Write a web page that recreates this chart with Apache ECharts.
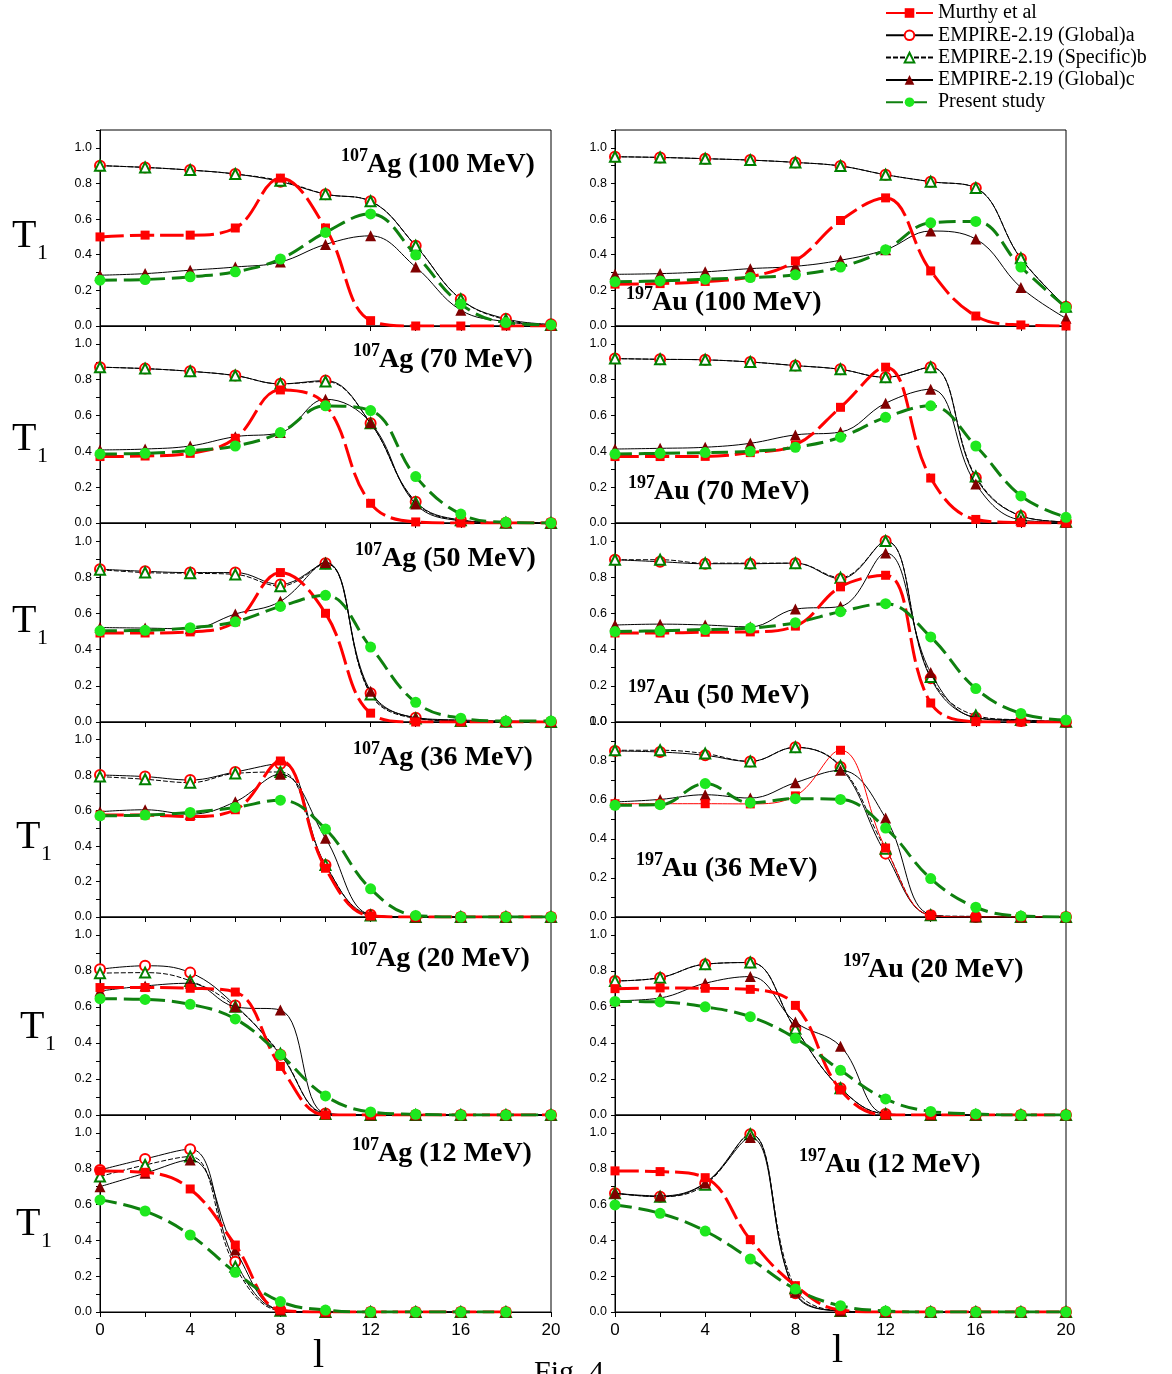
<!DOCTYPE html>
<html><head><meta charset="utf-8">
<script src="https://cdn.jsdelivr.net/npm/echarts@6/dist/echarts.min.js"></script>
<style>html,body{margin:0;padding:0;background:#fff}#c{width:1172px;height:1374px}</style>
</head><body><div id="c"></div>
<script>
// ---------------- DATA ----------------
const lValues = [0, 2, 4, 6, 8, 10, 12, 14, 16, 18, 20];
const seriesNames = ['Murthy et al', 'EMPIRE-2.19 (Global)a', 'EMPIRE-2.19 (Specific)b', 'EMPIRE-2.19 (Global)c', 'Present study'];
const panelSup = ['107', '197', '107', '197', '107', '197', '107', '197', '107', '197', '107', '197'];
const panelText = ['Ag (100 MeV)', 'Au (100 MeV)', 'Ag (70 MeV)', 'Au (70 MeV)', 'Ag (50 MeV)', 'Au (50 MeV)',
                   'Ag (36 MeV)', 'Au (36 MeV)', 'Ag (20 MeV)', 'Au (20 MeV)', 'Ag (12 MeV)', 'Au (12 MeV)'];
const yTickLabels = ['0.0', '0.2', '0.4', '0.6', '0.8', '1.0'];
const xTickLabels = ['0', '4', '8', '12', '16', '20'];

// 107Ag 100 MeV
const ag100Murthy  = [0.50, 0.51, 0.51, 0.55, 0.83, 0.55, 0.03, 0.0, 0.0, 0.0, 0.0];
const ag100GlobalA = [0.90, 0.89, 0.875, 0.853, 0.81, 0.74, 0.70, 0.45, 0.15, 0.04, 0.01];
const ag100SpecB   = [0.90, 0.89, 0.875, 0.853, 0.815, 0.74, 0.70, 0.45, 0.15, 0.035, 0.006];
const ag100GlobalC = [0.285, 0.294, 0.313, 0.331, 0.359, 0.458, 0.506, 0.331, 0.089, 0.024, 0.004];
const ag100Present = [0.257, 0.261, 0.276, 0.304, 0.376, 0.525, 0.629, 0.399, 0.123, 0.019, 0.006];
// 197Au 100 MeV
const au100Murthy  = [0.235, 0.238, 0.25, 0.276, 0.365, 0.592, 0.719, 0.309, 0.056, 0.006, 0.0];
const au100GlobalA = [0.95, 0.946, 0.939, 0.931, 0.918, 0.898, 0.849, 0.81, 0.775, 0.378, 0.108];
const au100SpecB   = [0.95, 0.946, 0.939, 0.931, 0.918, 0.898, 0.849, 0.81, 0.775, 0.38, 0.108];
const au100GlobalC = [0.29, 0.294, 0.304, 0.322, 0.335, 0.369, 0.428, 0.533, 0.488, 0.216, 0.043];
const au100Present = [0.248, 0.253, 0.263, 0.272, 0.287, 0.331, 0.428, 0.579, 0.587, 0.331, 0.104];
// 107Ag 70 MeV
const ag70Murthy  = [0.371, 0.374, 0.389, 0.473, 0.743, 0.66, 0.11, 0.006, 0, 0, 0];
const ag70GlobalA = [0.87, 0.862, 0.847, 0.823, 0.777, 0.795, 0.557, 0.119, 0.017, 0.002, 0];
const ag70SpecB   = [0.87, 0.862, 0.847, 0.823, 0.777, 0.79, 0.557, 0.115, 0.015, 0.002, 0];
const ag70GlobalC = [0.408, 0.413, 0.43, 0.482, 0.505, 0.691, 0.56, 0.106, 0.013, 0.002, 0];
const ag70Present = [0.385, 0.389, 0.404, 0.43, 0.505, 0.654, 0.628, 0.259, 0.05, 0.004, 0];
// 197Au 70 MeV
const au70Murthy  = [0.371, 0.371, 0.372, 0.393, 0.436, 0.646, 0.87, 0.251, 0.02, 0.002, 0];
const au70GlobalA = [0.918, 0.914, 0.911, 0.899, 0.879, 0.858, 0.814, 0.87, 0.253, 0.039, 0.007];
const au70SpecB   = [0.918, 0.914, 0.911, 0.899, 0.879, 0.858, 0.814, 0.87, 0.26, 0.04, 0.007];
const au70GlobalC = [0.413, 0.417, 0.423, 0.445, 0.492, 0.508, 0.669, 0.747, 0.218, 0.017, 0.004];
const au70Present = [0.385, 0.389, 0.393, 0.40, 0.423, 0.479, 0.59, 0.654, 0.43, 0.151, 0.032];
// 107Ag 50 MeV
const ag50Murthy  = [0.492, 0.492, 0.498, 0.554, 0.826, 0.601, 0.049, 0, 0, 0, 0];
const ag50GlobalA = [0.845, 0.833, 0.826, 0.826, 0.76, 0.878, 0.159, 0.024, 0.006, 0.002, 0];
const ag50SpecB   = [0.842, 0.826, 0.822, 0.816, 0.751, 0.875, 0.152, 0.02, 0.005, 0.002, 0];
const ag50GlobalC = [0.522, 0.519, 0.515, 0.597, 0.667, 0.882, 0.17, 0.024, 0.011, 0.006, 0.002];
const ag50Present = [0.504, 0.507, 0.521, 0.554, 0.639, 0.70, 0.414, 0.109, 0.021, 0.006, 0.006];
// 197Au 50 MeV
const au50Murthy  = [0.492, 0.492, 0.496, 0.498, 0.53, 0.747, 0.811, 0.105, 0.002, 0, 0];
const au50GlobalA = [0.897, 0.886, 0.875, 0.875, 0.878, 0.792, 1.0, 0.242, 0.024, 0.006, 0];
const au50SpecB   = [0.897, 0.897, 0.878, 0.878, 0.878, 0.798, 1.0, 0.249, 0.036, 0.011, 0.002];
const au50GlobalC = [0.536, 0.541, 0.536, 0.526, 0.624, 0.639, 0.934, 0.273, 0.024, 0.011, 0.002];
const au50Present = [0.50, 0.504, 0.511, 0.519, 0.549, 0.61, 0.654, 0.47, 0.185, 0.047, 0.011];
// 107Ag 36 MeV
const ag36Murthy  = [0.575, 0.575, 0.567, 0.605, 0.88, 0.275, 0.006, 0, 0, 0, 0];
const ag36GlobalA = [0.801, 0.792, 0.773, 0.818, 0.865, 0.294, 0.013, 0, 0, 0, 0];
const ag36SpecB   = [0.792, 0.777, 0.758, 0.81, 0.818, 0.294, 0.009, 0, 0, 0, 0];
const ag36GlobalC = [0.594, 0.605, 0.58, 0.65, 0.805, 0.444, 0.013, 0, 0, 0, 0];
const ag36Present = [0.571, 0.575, 0.59, 0.618, 0.659, 0.496, 0.159, 0.009, 0, 0, 0];
// 197Au 36 MeV
const au36Murthy  = [0.581, 0.581, 0.581, 0.58, 0.621, 0.855, 0.354, 0.009, 0, 0, 0];
const au36GlobalA = [0.851, 0.846, 0.829, 0.798, 0.87, 0.769, 0.325, 0.009, 0, 0, 0];
const au36SpecB   = [0.855, 0.855, 0.838, 0.798, 0.87, 0.774, 0.35, 0.009, 0.003, 0, 0];
const au36GlobalC = [0.59, 0.603, 0.627, 0.61, 0.689, 0.752, 0.508, 0.012, 0, 0, 0];
const au36Present = [0.573, 0.576, 0.684, 0.586, 0.607, 0.603, 0.456, 0.197, 0.05, 0.005, 0];
// 107Ag 20 MeV
const ag20Murthy  = [0.708, 0.708, 0.704, 0.683, 0.27, 0, 0, 0, 0, 0, 0];
const ag20GlobalA = [0.81, 0.829, 0.791, 0.609, 0.335, 0.009, 0, 0, 0, 0, 0];
const ag20SpecB   = [0.788, 0.791, 0.745, 0.601, 0.341, 0.006, 0, 0, 0, 0, 0];
const ag20GlobalC = [0.689, 0.717, 0.732, 0.601, 0.583, 0.009, 0, 0, 0, 0, 0];
const ag20Present = [0.646, 0.642, 0.615, 0.534, 0.335, 0.106, 0.017, 0.004, 0, 0, 0];
// 197Au 20 MeV
const au20Murthy  = [0.702, 0.706, 0.704, 0.698, 0.609, 0.14, 0, 0, 0, 0, 0];
const au20GlobalA = [0.745, 0.763, 0.838, 0.847, 0.479, 0.149, 0.006, 0, 0, 0, 0];
const au20SpecB   = [0.745, 0.763, 0.838, 0.847, 0.479, 0.149, 0.006, 0, 0, 0, 0];
const au20GlobalC = [0.635, 0.65, 0.732, 0.769, 0.516, 0.382, 0.006, 0, 0, 0, 0];
const au20Present = [0.631, 0.628, 0.601, 0.546, 0.426, 0.248, 0.089, 0.02, 0.006, 0, 0];
// 107Ag 12 MeV
const ag12Murthy  = [0.788, 0.78, 0.687, 0.374, 0.011, 0, 0, 0, 0, 0, null];
const ag12GlobalA = [0.793, 0.855, 0.909, 0.281, 0.011, 0, 0, 0, 0, 0, null];
const ag12SpecB   = [0.756, 0.821, 0.868, 0.253, 0.007, 0, 0, 0, 0, 0, null];
const ag12GlobalC = [0.70, 0.775, 0.849, 0.346, 0.011, 0, 0, 0, 0, 0, null];
const ag12Present = [0.626, 0.564, 0.43, 0.222, 0.058, 0.011, 0, 0, 0, 0, null];
// 197Au 12 MeV
const au12Murthy  = [0.788, 0.784, 0.75, 0.404, 0.147, 0.011, 0, 0, 0, 0, 0];
const au12GlobalA = [0.663, 0.644, 0.719, 0.993, 0.104, 0.006, 0, 0, 0, 0, 0];
const au12SpecB   = [0.663, 0.644, 0.71, 0.993, 0.132, 0.006, 0, 0, 0, 0, 0];
const au12GlobalC = [0.663, 0.648, 0.72, 0.974, 0.11, 0.006, 0, 0, 0, 0, 0];
const au12Present = [0.598, 0.551, 0.452, 0.296, 0.128, 0.035, 0.006, 0, 0, 0, 0];

const panelSeries = [
  [ag100Murthy, ag100GlobalA, ag100SpecB, ag100GlobalC, ag100Present],
  [au100Murthy, au100GlobalA, au100SpecB, au100GlobalC, au100Present],
  [ag70Murthy, ag70GlobalA, ag70SpecB, ag70GlobalC, ag70Present],
  [au70Murthy, au70GlobalA, au70SpecB, au70GlobalC, au70Present],
  [ag50Murthy, ag50GlobalA, ag50SpecB, ag50GlobalC, ag50Present],
  [au50Murthy, au50GlobalA, au50SpecB, au50GlobalC, au50Present],
  [ag36Murthy, ag36GlobalA, ag36SpecB, ag36GlobalC, ag36Present],
  [au36Murthy, au36GlobalA, au36SpecB, au36GlobalC, au36Present],
  [ag20Murthy, ag20GlobalA, ag20SpecB, ag20GlobalC, ag20Present],
  [au20Murthy, au20GlobalA, au20SpecB, au20GlobalC, au20Present],
  [ag12Murthy, ag12GlobalA, ag12SpecB, ag12GlobalC, ag12Present],
  [au12Murthy, au12GlobalA, au12SpecB, au12GlobalC, au12Present]
];

// ---------------- LAYOUT / STYLE ----------------
const SERIF = '"Liberation Serif","Times New Roman",serif';
const SANS = '"Liberation Sans",Arial,sans-serif';
const rowTops = [130, 326, 523, 722, 917, 1115];
const rowHeights = [196, 197, 199, 195, 198, 197];
const colLefts = [100, 615];
const panelWidth = 451;
const panelYMax = [1.1, 1.1, 1.1, 1.1, 1.1, 1.1, 1.1, 1.0, 1.1, 1.1, 1.1, 1.1];
// label positions: [supX, mainX, mainBaseline]
const labelPos = [
  [341, 367, 174], [626, 652, 312], [353, 379, 369], [628, 654, 501],
  [355, 382, 568], [628, 654, 705], [353, 379, 767], [636, 662, 878],
  [350, 376, 968], [843, 868, 979], [352, 378, 1163], [799, 825, 1174]
];
const tPos = [[12, 250], [12, 453], [12, 635], [16, 851], [20, 1041], [16, 1238]];

const styles = [
  { symbol: 'rect', size: 9, color: '#ff0000', line: { color: '#ff0000', width: 3, type: [24, 6] }, bw: 0, z: 4 },
  { symbol: 'emptyCircle', size: 10, color: '#ff0000', line: { color: '#000', width: 1, type: 'solid' }, bw: 1.3, z: 2 },
  { symbol: 'emptyTriangle', size: 10, color: '#008000', line: { color: '#000', width: 1, type: [5, 2] }, bw: 1.3, z: 2 },
  { symbol: 'triangle', size: 11, color: '#800000', line: { color: '#000', width: 1, type: 'solid' }, bw: 0, z: 3 },
  { symbol: 'circle', size: 11, color: '#1ee81e', line: { color: '#0f800f', width: 3, type: [17, 7] }, bw: 0, z: 5 }
];
const drawOrder = [1, 2, 3, 0, 4];

const grids = [], xAxes = [], yAxes = [], series = [], graphics = [];
for (let i = 0; i < 12; i++) {
  const row = Math.floor(i / 2), col = i % 2;
  const isBottom = row === 5;
  grids.push({ left: colLefts[col], top: rowTops[row], width: panelWidth, height: rowHeights[row],
    show: true, borderColor: '#000', borderWidth: 1, backgroundColor: 'transparent' });
  xAxes.push({ gridIndex: i, type: 'value', min: 0, max: 20, interval: 2,
    axisLine: { show: true, lineStyle: { color: '#000', width: 1 } },
    axisTick: { show: true, inside: false, length: 5, lineStyle: { color: '#000', width: 1 } },
    splitLine: { show: false },
    axisLabel: { show: isBottom, margin: 10, color: '#000', fontSize: 17, fontFamily: SANS,
      formatter: v => xTickLabels.indexOf(String(v)) >= 0 ? String(v) : '' } });
  yAxes.push({ gridIndex: i, type: 'value', min: 0, max: panelYMax[i], interval: 0.1,
    axisLine: { show: true, lineStyle: { color: '#000', width: 1 } },
    axisTick: { show: true, inside: false, length: 4, lineStyle: { color: '#000', width: 1 } },
    splitLine: { show: false },
    axisLabel: { margin: 8, color: '#000', fontSize: 12.5, fontFamily: SANS,
      formatter: v => { const s = v.toFixed(1); return yTickLabels.indexOf(s) >= 0 ? s : ''; } } });
  drawOrder.forEach(k => {
    const st = styles[k];
    series.push({
      name: seriesNames[k], type: 'line', xAxisIndex: i, yAxisIndex: i,
      data: lValues.map((l, j) => [l, panelSeries[i][k][j]]),
      smooth: 0.4, symbol: st.symbol, symbolSize: st.size, showAllSymbol: true, z: st.z,
      lineStyle: (i === 7 && k === 0) ? { color: '#ff0000', width: 1, type: 'solid' } : st.line,
      itemStyle: { color: st.color, borderColor: st.color, borderWidth: st.bw },
      emphasis: { disabled: true }, animation: false
    });
  });
  const lp = labelPos[i];
  graphics.push({ type: 'text', style: { text: panelSup[i], x: lp[0], y: lp[2] - 11.5 - 6,
    font: 'bold 18px ' + SERIF, fill: '#000', verticalAlign: 'middle', align: 'left' } });
  graphics.push({ type: 'text', style: { text: panelText[i], x: lp[1], y: lp[2] - 9.5,
    font: 'bold 28px ' + SERIF, fill: '#000', verticalAlign: 'middle', align: 'left' } });
}
tPos.forEach(p => {
  graphics.push({ type: 'text', style: { text: 'T', x: p[0], y: p[1] - 13.5, font: '40px ' + SERIF, fill: '#000', verticalAlign: 'middle' } });
  graphics.push({ type: 'text', style: { text: '1', x: p[0] + 25, y: p[1] + 11 - 7.5, font: '22px ' + SERIF, fill: '#000', verticalAlign: 'middle' } });
});
graphics.push({ type: 'text', style: { text: 'l', x: 313, y: 1356, font: '40px ' + SERIF, fill: '#000', verticalAlign: 'middle' } });
graphics.push({ type: 'text', style: { text: 'l', x: 832, y: 1351, font: '40px ' + SERIF, fill: '#000', verticalAlign: 'middle' } });
graphics.push({ type: 'text', style: { text: 'Fig. 4', x: 534, y: 1373, font: '30px ' + SERIF, fill: '#000', verticalAlign: 'middle' } });

const chart = echarts.init(document.getElementById('c'), null, { renderer: 'canvas' });
chart.setOption({
  animation: false,
  backgroundColor: '#fff',
  legend: { data: seriesNames, orient: 'vertical', left: 885, top: 3, padding: 0, itemWidth: 47, itemHeight: 12, itemGap: 2.3,
    textStyle: { fontFamily: SERIF, fontSize: 20, color: '#000' } },
  grid: grids, xAxis: xAxes, yAxis: yAxes, series: series, graphic: graphics
});
</script></body></html>
